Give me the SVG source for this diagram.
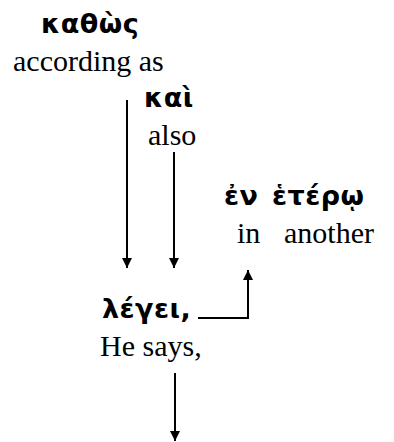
<svg xmlns="http://www.w3.org/2000/svg" width="394" height="442" viewBox="0 0 394 442">
<style>
.gk{font-family:"DejaVu Sans","Noto Sans",sans-serif;font-weight:bold;font-size:27px;letter-spacing:0.5px;fill:#000}
.en{font-family:"Liberation Serif","Times New Roman",serif;font-size:30px;fill:#000}
.ln{stroke:#000;stroke-width:2;fill:none}
</style>
<defs>
<marker id="ah" markerWidth="10" markerHeight="11" refX="10" refY="5" orient="auto" markerUnits="userSpaceOnUse">
<path d="M0,0 L10,5 L0,10 Z" fill="#000"/>
</marker>
</defs>
<g id="n-kathos">
<text class="gk" x="41" y="33">καθὼς</text>
<text class="en" x="13" y="71">according as</text>
</g>
<g id="n-kai">
<text class="gk" x="144" y="107">καὶ</text>
<text class="en" x="148" y="145">also</text>
</g>
<g id="n-en-hetero">
<text class="gk" y="205"><tspan x="224">ἐν</tspan><tspan x="272">ἑτέρῳ</tspan></text>
<text class="en" y="243"><tspan x="237">in</tspan><tspan x="284">another</tspan></text>
</g>
<g id="n-legei">
<text class="gk" x="102" y="318" letter-spacing="1.5">λέγει,</text>
<text class="en" x="100" y="356">He says,</text>
</g>
<g id="connectors">
<path class="ln" d="M127,100 V268" marker-end="url(#ah)"/>
<path class="ln" d="M174,152 V268" marker-end="url(#ah)"/>
<path class="ln" d="M198,318 H248 V270" marker-end="url(#ah)"/>
<path class="ln" d="M175,373 V441" marker-end="url(#ah)"/>
</g>
</svg>
